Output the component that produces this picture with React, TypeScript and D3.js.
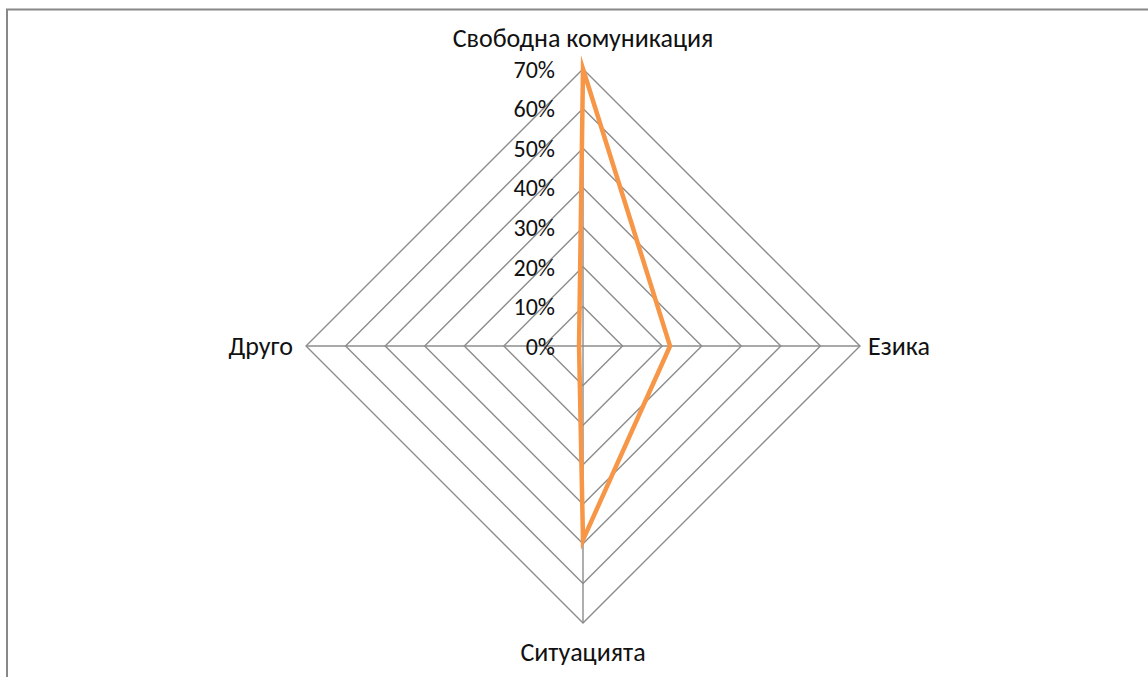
import { useEffect, useRef } from "react";
import * as d3 from "d3";

const categories = ["Свободна комуникация", "Езика", "Ситуацията", "Друго"];
const values = [0.7, 0.22, 0.49, 0.01];
const ticks = [0, 0.1, 0.2, 0.3, 0.4, 0.5, 0.6, 0.7];

const App = () => {
  const svgRef = useRef<SVGSVGElement>(null);

  useEffect(() => {
    const width = 1148;
    const height = 677;
    const cx = 583;
    const cy = 346;
    const radius = 277;
    const font = "Calibri, Carlito, 'Open Sans', 'Noto Sans', sans-serif";

    const svg = d3.select(svgRef.current).attr("width", width).attr("height", height);
    svg.selectAll("*").remove();

    // chart area frame (runs off the right/bottom edge)
    svg
      .append("rect")
      .attr("x", 7)
      .attr("y", 9.5)
      .attr("width", 1300)
      .attr("height", 800)
      .attr("fill", "#fff")
      .attr("stroke", "#888")
      .attr("stroke-width", 2);

    const g = svg.append("g").attr("transform", `translate(${cx},${cy})`);

    const r = d3.scaleLinear().domain([0, 0.7]).range([0, radius]);
    const angle = (i: number) => (i / categories.length) * 2 * Math.PI;

    const ring = d3
      .lineRadial<number>()
      .angle((_, i) => angle(i))
      .radius((d) => r(d))
      .curve(d3.curveLinearClosed);

    // grid rings
    g.selectAll("path.grid")
      .data(ticks.slice(1))
      .enter()
      .append("path")
      .attr("class", "grid")
      .attr("d", (t) => ring(categories.map(() => t)))
      .attr("fill", "none")
      .attr("stroke", "#8c8c8c")
      .attr("stroke-width", 1.4);

    // spokes
    g.selectAll("line.spoke")
      .data(categories)
      .enter()
      .append("line")
      .attr("class", "spoke")
      .attr("x1", 0)
      .attr("y1", 0)
      .attr("x2", (_, i) => r(0.7) * Math.sin(angle(i)))
      .attr("y2", (_, i) => -r(0.7) * Math.cos(angle(i)))
      .attr("stroke", "#8c8c8c")
      .attr("stroke-width", 1.4);

    // tick labels
    g.selectAll("text.tick")
      .data(ticks)
      .enter()
      .append("text")
      .attr("class", "tick")
      .attr("x", -28)
      .attr("y", (t) => -r(t))
      .attr("dy", "0.36em")
      .attr("text-anchor", "end")
      .style("font-family", font)
      .style("font-size", "24px")
      .style("fill", "#111")
      .text((t) => d3.format(".0%")(t));

    // series
    g.append("path")
      .attr("d", ring(values))
      .attr("fill", "none")
      .attr("stroke", "#f79646")
      .attr("stroke-width", 4.5)
      .attr("stroke-linejoin", "miter")
      .attr("stroke-miterlimit", 10);

    // category labels
    const labelPos = [
      { x: 0, y: -r(0.7) - 22, anchor: "middle", dy: "0" },
      { x: r(0.7) + 8, y: 0, anchor: "start", dy: "0.36em" },
      { x: 0, y: r(0.7) + 38, anchor: "middle", dy: "0" },
      { x: -r(0.7) - 13, y: 0, anchor: "end", dy: "0.36em" },
    ];
    g.selectAll("text.cat")
      .data(categories)
      .enter()
      .append("text")
      .attr("class", "cat")
      .attr("x", (_, i) => labelPos[i].x)
      .attr("y", (_, i) => labelPos[i].y)
      .attr("dy", (_, i) => labelPos[i].dy)
      .attr("text-anchor", (_, i) => labelPos[i].anchor)
      .style("font-family", font)
      .style("font-size", "26px")
      .style("fill", "#111")
      .text((d) => d);
  }, []);

  return (
    <svg
      ref={svgRef}
      style={{ position: "fixed", top: 0, left: 0, background: "#fff" }}
    ></svg>
  );
};

export default App;
